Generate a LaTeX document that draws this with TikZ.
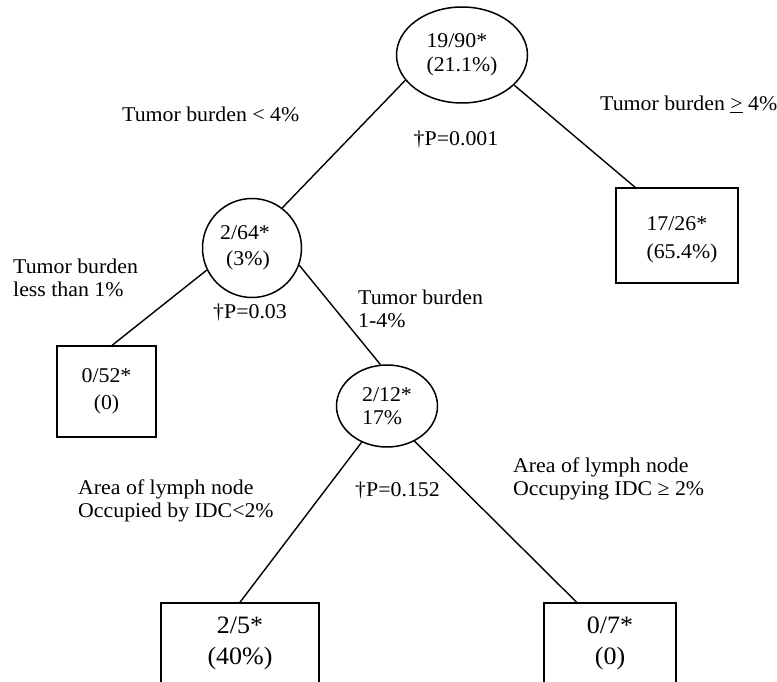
\documentclass[tikz,border=0pt]{standalone}
\usepackage{fontspec}
\setmainfont{Liberation Serif}[FakeStretch=1.04]
\usetikzlibrary{shapes.geometric}
\begin{document}
\begin{tikzpicture}[x=1pt,y=-1pt,
  every node/.style={font=\fontsize{21}{24}\selectfont, inner sep=0pt},
  oval/.style={draw, ellipse, line width=1.5pt, align=center},
  leaf/.style={draw, rectangle, line width=1.5pt, align=center},
  lbl/.style={align=left, anchor=base west, font=\fontsize{21}{23}\selectfont},
  pval/.style={anchor=base},
  conn/.style={line width=1.4pt}]
\useasboundingbox (0,0) rectangle (777,682);
\clip (0,0) rectangle (777,682);
% nodes
\node[oval, align=left, minimum width=131pt, minimum height=96pt] (n19) at (462,55) {19/90*\\(21.1\%)};
\node[leaf, align=left, minimum width=122pt, minimum height=95pt, font=\fontsize{21}{28}\selectfont] (n17) at (677,235.5) {\hspace*{10pt}17/26*\rule{0pt}{22pt}\\\hspace*{10pt}(65.4\%)};
\node[oval, align=right, minimum width=99pt, minimum height=99pt, font=\fontsize{21}{26}\selectfont] (n264) at (252,248) {2/64*\hspace*{14pt}\\(3\%)\hspace*{14pt}};
\node[leaf, minimum width=99pt, minimum height=91pt, font=\fontsize{21}{27}\selectfont] (n052) at (106.5,391.5) {0/52*\\(0)};
\node[oval, minimum width=101pt, minimum height=82pt, align=left, font=\fontsize{21}{23}\selectfont] (n212) at (387,406) {2/12*\\17\%};
\node[leaf, minimum width=158pt, minimum height=81pt, font=\fontsize{25}{31}\selectfont] (n25) at (240,643.5) {2/5*\\(40\%)};
\node[leaf, minimum width=132pt, minimum height=81pt, font=\fontsize{25}{31}\selectfont] (n07) at (610,643.5) {0/7*\\(0)};
% labels
\node[lbl] (l1) at (122,122) {Tumor burden < 4\%};
\node[lbl] (l2) at (600,111) {Tumor burden \underline{>} 4\%};
\node[pval] (p1) at (456,146) {†P=0.001};
\node[lbl] (l3) at (13,296) {Tumor burden\\less than 1\%};
\node[pval] (p2) at (250,318) {†P=0.03};
\node[lbl] (l4) at (358,327) {Tumor burden\\1-4\%};
\node[lbl] (l5) at (78,517) {Area of lymph node\\Occupied by IDC<2\%};
\node[pval] (p3) at (397.5,496) {†P=0.152};
\node[lbl] (l6) at (513,495) {Area of lymph node\\Occupying IDC ≥ 2\%};
% connectors
\draw[conn] (n19.204) -- (n264.53);
\draw[conn] (n19.330) -- (n17.131);
\draw[conn] (n264.206) -- (n052.83);
\draw[conn] (n264.340) -- (n212.99);
\draw[conn] (n212.235) -- (n25.north);
\draw[conn] (n212.308) -- (n07.129);
\end{tikzpicture}
\end{document}
